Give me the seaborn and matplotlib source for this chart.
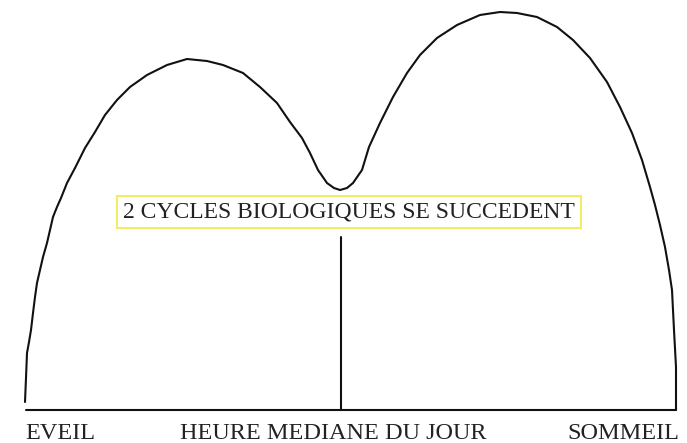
"""Two biological cycles across the day: hand-drawn style diagram."""

import matplotlib
matplotlib.use("Agg")
import matplotlib.pyplot as plt
import seaborn as sns

# curve (pixel coordinates, y grows downward)
curve_x = [25, 26, 27, 29, 31, 33, 35, 37, 40, 43, 47, 50, 53, 57, 61, 67,
           75, 85, 95, 105, 117, 130, 147, 167, 187, 207, 223, 243, 260, 277,
           290, 302, 310, 318, 327, 334, 340, 347, 353, 362, 369, 380, 393,
           407, 420, 437, 457, 480, 500, 517, 537, 557, 573, 590, 607, 620,
           632, 642, 650, 655, 660, 665, 669, 672, 674, 676, 676]
curve_y = [402, 378, 353, 342, 330, 313, 297, 283, 270, 257, 243, 230, 217,
           207, 198, 183, 168, 148, 132, 115, 100, 87, 75, 65, 59, 61, 65, 73,
           87, 103, 122, 138, 153, 170, 183, 188, 190, 188, 183, 170, 147,
           123, 97, 73, 55, 38, 25, 15, 12, 13, 17, 27, 40, 58, 82, 107, 133,
           160, 187, 205, 225, 247, 270, 290, 330, 367, 410]

base_x = [26, 676]
base_y = [410, 410]
mid_x = [341, 341]
mid_y = [237, 410]

title_text = "2 CYCLES BIOLOGIQUES SE SUCCEDENT"
bottom_labels = ["EVEIL", "HEURE MEDIANE DU JOUR", "SOMMEIL"]
bottom_pos = [25, 180, 567]

sns.set_style("white")
plt.rcParams["font.family"] = ["Liberation Serif", "DejaVu Serif"]

fig = plt.figure(figsize=(6.87, 4.43), dpi=100)
ax = fig.add_axes([0, 0, 1, 1])

for xs, ys in [(curve_x, curve_y), (base_x, base_y), (mid_x, mid_y)]:
    sns.lineplot(x=xs, y=ys, sort=False, estimator=None,
                 color="#111111", lw=1.5, ax=ax)

ax.text(349, 212, title_text, ha="center", va="center", fontsize=17,
        color="#222222",
        bbox={"boxstyle": "square,pad=0.25", "fc": "white",
              "ec": "#f2ea50", "lw": 1.3})

for label, x in zip(bottom_labels, bottom_pos):
    ax.text(x, 439, label, ha="left", va="baseline", fontsize=17.5,
            color="#222222")

ax.set_xlim(0, 687)
ax.set_ylim(443, 0)
ax.axis("off")

fig.savefig("out.png", dpi=100)
plt.close(fig)
